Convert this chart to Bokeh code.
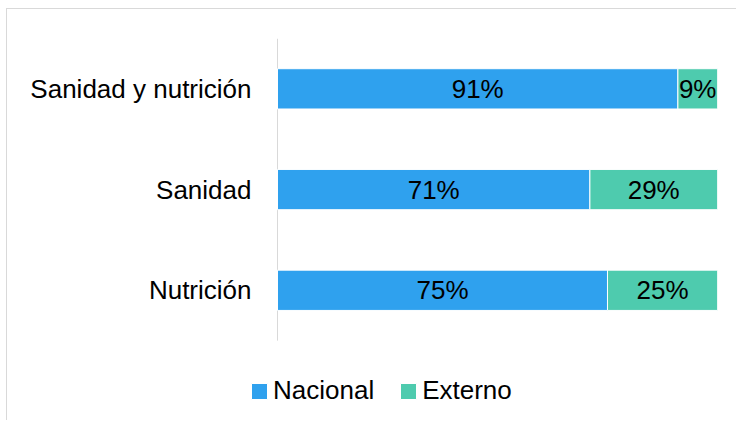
from bokeh.plotting import figure
from bokeh.models import ColumnDataSource, Legend, LegendItem, LabelSet, Range1d
from bokeh.core.properties import value
from bokeh.embed import file_html
from bokeh.resources import INLINE

categories = ["Nutrición", "Sanidad", "Sanidad y nutrición"]
nacional = [0.75, 0.71, 0.91]
externo = [0.25, 0.29, 0.09]
series_names = ["Nacional", "Externo"]
colors = ["#2FA1EE", "#4ECBAE"]

FONT = "Liberation Sans"
FS = "26px"
n = len(categories)
ypos = list(range(n))

p = figure(x_range=Range1d(-0.6136, 1), y_range=Range1d(-1.283, n - 0.5),
           width=730, height=412,
           output_backend="svg", toolbar_location=None,
           min_border_left=0, min_border_right=20, min_border_top=29, min_border_bottom=2,
           styles={"margin-left": "6px", "margin-top": "8px",
                   "border-left": "1px solid #d9d9d9", "border-top": "1px solid #d9d9d9"})
p.outline_line_color = None
p.xgrid.grid_line_color = None
p.ygrid.grid_line_color = None
p.xaxis.visible = False
p.yaxis.visible = False

left1 = [0] * n
right1 = nacional
left2 = nacional
right2 = [a + b for a, b in zip(nacional, externo)]

src = ColumnDataSource(dict(y=ypos, cat=categories, x0=left1,
                            l1=left1, r1=right1, l2=left2, r2=right2,
                            c1=[(a + b) / 2 for a, b in zip(left1, right1)],
                            c2=[(a + b) / 2 for a, b in zip(left2, right2)],
                            t1=[f"{round(v*100)}%" for v in nacional],
                            t2=[f"{round(v*100)}%" for v in externo]))

# category axis line spanning only the category band
p.segment(x0=[0], y0=[-0.5], x1=[0], y1=[n - 0.5], line_color="#d9d9d9", line_width=1)

# category (axis) labels
p.text(x="x0", y="y", text="cat", source=src, x_offset=-26, text_align="right",
       text_baseline="middle", text_font=value(FONT), text_font_size=value(FS),
       text_color="#000000")

r_nac = p.hbar(y="y", left="l1", right="r1", height=0.4, source=src,
               fill_color=colors[0], line_color="white", line_width=1)
r_ext = p.hbar(y="y", left="l2", right="r2", height=0.4, source=src,
               fill_color=colors[1], line_color="white", line_width=1)

for xcol, tcol in (("c1", "t1"), ("c2", "t2")):
    lab = LabelSet(x=xcol, y="y", text=tcol, source=src, text_align="center",
                   text_baseline="middle", text_font=value(FONT), text_font_size=value(FS),
                   text_color=value("#000000"))
    p.add_layout(lab)

legend = Legend(items=[LegendItem(label=series_names[0], renderers=[r_nac]),
                       LegendItem(label=series_names[1], renderers=[r_ext])],
                orientation="horizontal", location=(242, 13),
                label_text_font=FONT, label_text_font_size=FS,
                label_text_color="#000000", glyph_width=20, glyph_height=20,
                spacing=24, label_standoff=4, border_line_color=None,
                background_fill_alpha=0, margin=0, padding=0)
p.add_layout(legend)

open("out.html", "w").write(file_html(p, INLINE))
